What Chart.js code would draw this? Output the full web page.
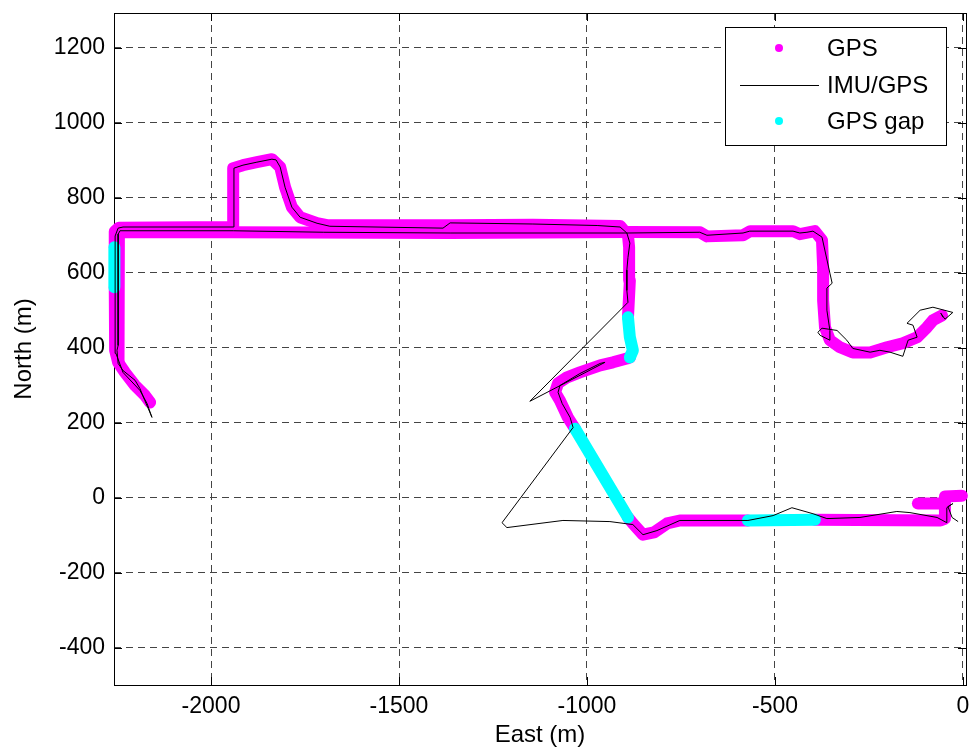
<!DOCTYPE html>
<html>
<head>
<meta charset="utf-8">
<script src="https://cdn.jsdelivr.net/npm/chart.js@4.4.1/dist/chart.umd.min.js"></script>
<style>
  body { margin: 0; background: #fff; }
  #wrap { width: 969px; height: 750px; }
</style>
</head>
<body>
<div id="wrap"><canvas id="grafico" width="969" height="750"></canvas></div>
<script>
// East / North in metres
const ticksEste = [-2000, -1500, -1000, -500, 0];
const ticksNorte = [-400, -200, 0, 200, 400, 600, 800, 1000, 1200];

// GPS fixes (magenta), one array per continuous stretch
const gpsOrigen = [[-3, 5], [-48, 3], [-48, -56], [-60, -61], [-394, -59]];
const gpsGancho = [[-120, -16], [-62, -16]];
const gpsSur = [[-572, -61], [-753, -61], [-787, -69], [-822, -93], [-851, -99], [-878, -69], [-891, -53]];
const gpsCurva = [[-1032, 184], [-1051, 214], [-1072, 259], [-1085, 281], [-1077, 305], [-1053, 321], [-1019, 334],
  [-965, 353], [-931, 361], [-894, 371], [-886, 374]];
const gpsNorteArriba = [[-891, 481], [-886, 580], [-888, 668], [-891, 700], [-912, 725], [-1144, 728], [-1364, 727],
  [-1691, 727], [-1718, 732], [-1763, 748], [-1785, 775], [-1803, 828], [-1816, 882], [-1838, 903], [-1878, 895],
  [-1915, 887], [-1941, 879], [-1941, 722], [-2245, 720], [-2256, 710], [-2256, 668]];
const gpsOeste = [[-2256, 561], [-2255, 393], [-2247, 361], [-2229, 334], [-2202, 299], [-2176, 273], [-2162, 254]];
const gpsVuelta = [[-56, 486], [-80, 473], [-96, 454], [-122, 428], [-160, 412], [-202, 401], [-247, 387], [-293, 387],
  [-327, 401], [-354, 420], [-367, 454], [-372, 526], [-372, 615], [-375, 687], [-394, 711], [-434, 703], [-452, 711],
  [-566, 711], [-585, 700], [-681, 697], [-699, 708], [-891, 709], [-1364, 706], [-1941, 708], [-2242, 708],
  [-2245, 700], [-2245, 400], [-2247, 361]];

// GPS gap stretches (cyan)
const hueco1 = [[-394, -59], [-572, -61]];
const hueco2 = [[-891, -53], [-1032, 184]];
const hueco3 = [[-886, 374], [-878, 393], [-886, 428], [-891, 481]];
const hueco4 = [[-2257, 668], [-2257, 561]];

// IMU/GPS solution (black line), in driving order
const imuGps = [[-53, 481], [-59, 492], [-48, 476], [-27, 494], [-80, 508], [-114, 500], [-149, 465], [-133, 460],
  [-122, 428], [-146, 420], [-160, 377], [-194, 388], [-221, 393], [-247, 388], [-293, 398], [-309, 420], [-335, 446],
  [-375, 452], [-386, 441], [-380, 433], [-354, 420], [-354, 446], [-362, 500], [-362, 559], [-348, 572], [-354, 599],
  [-375, 695], [-399, 711], [-415, 708], [-434, 706], [-452, 711], [-567, 711], [-585, 706], [-681, 700], [-700, 708],
  [-891, 706], [-1364, 706], [-1700, 708], [-1941, 712], [-2242, 712], [-2247, 703], [-2247, 406], [-2250, 393],
  [-2247, 358], [-2234, 339], [-2202, 313], [-2189, 291], [-2176, 259], [-2157, 214], [-2170, 251], [-2189, 286],
  [-2234, 334], [-2253, 385], [-2255, 406], [-2255, 698], [-2247, 719], [-2234, 722], [-1941, 722], [-1939, 879],
  [-1915, 887], [-1878, 895], [-1838, 903], [-1827, 901], [-1816, 882], [-1803, 828], [-1785, 775], [-1763, 748],
  [-1718, 732], [-1684, 724], [-1383, 719], [-1364, 733], [-1144, 730], [-973, 726], [-912, 722], [-894, 706],
  [-886, 679], [-891, 641], [-894, 607], [-894, 553], [-891, 521], [-1152, 257], [-952, 361], [-965, 358],
  [-1019, 331], [-1072, 299], [-1077, 281], [-1066, 251], [-1045, 214], [-1037, 187], [-1226, -67], [-1213, -80],
  [-1064, -61], [-939, -64], [-878, -72], [-851, -99], [-814, -88], [-753, -61], [-572, -61], [-505, -48],
  [-455, -27], [-399, -43], [-362, -56], [-274, -53], [-176, -37], [-141, -40], [-69, -53], [-43, -67], [-43, -27],
  [-27, -16], [-40, -24], [-29, -53], [-13, -64]];

const tramosGps = [gpsOrigen, gpsGancho, gpsSur, gpsCurva, gpsNorteArriba, gpsOeste, gpsVuelta];
const tramosHueco = [hueco1, hueco2, hueco3, hueco4];

const fuente = '"Liberation Sans", Arial, Helvetica, sans-serif';
const MAGENTA = '#ff00ff';
const CIAN = '#00ffff';

function aPuntos(tramo) {
    return tramo.map(p => ({ x: p[0], y: p[1] }));
}

function tramoGrueso(tramo, color, orden) {
    return {
        data: aPuntos(tramo),
        showLine: true,
        borderColor: color,
        backgroundColor: color,
        borderWidth: 12,
        borderCapStyle: 'round',
        borderJoinStyle: 'round',
        pointRadius: 0,
        tension: 0,
        clip: false,
        order: orden
    };
}

const datasets = [];
datasets.push({
    data: aPuntos(imuGps),
    showLine: true,
    borderColor: '#000',
    borderWidth: 1,
    pointRadius: 0,
    tension: 0,
    clip: false,
    order: 0
});
tramosHueco.forEach(t => datasets.push(tramoGrueso(t, CIAN, 1)));
tramosGps.forEach(t => datasets.push(tramoGrueso(t, MAGENTA, 2)));

// box around the axes with inward ticks on all four sides
const marco = {
    id: 'marco',
    beforeDatasetsDraw(chart) {
        const { ctx, chartArea: a, scales } = chart;
        ctx.save();
        ctx.strokeStyle = '#000';
        ctx.lineWidth = 1;
        ctx.strokeRect(Math.round(a.left) + 0.5, Math.round(a.top) + 0.5,
            Math.round(a.right - a.left), Math.round(a.bottom - a.top));
        const largo = 8;
        ctx.beginPath();
        ticksEste.forEach(v => {
            const px = Math.round(scales.x.getPixelForValue(v)) + 0.5;
            ctx.moveTo(px, a.bottom); ctx.lineTo(px, a.bottom - largo);
            ctx.moveTo(px, a.top); ctx.lineTo(px, a.top + largo);
        });
        ticksNorte.forEach(v => {
            const py = Math.round(scales.y.getPixelForValue(v)) + 0.5;
            ctx.moveTo(a.left, py); ctx.lineTo(a.left + largo, py);
            ctx.moveTo(a.right, py); ctx.lineTo(a.right - largo, py);
        });
        ctx.stroke();
        ctx.restore();
    },
    afterDraw(chart) {
        const ctx = chart.ctx;
        const x0 = 725.5, y0 = 27.5, w = 221, h = 118;
        ctx.save();
        ctx.fillStyle = '#fff';
        ctx.fillRect(x0, y0, w, h);
        ctx.strokeStyle = '#000';
        ctx.lineWidth = 1;
        ctx.strokeRect(x0, y0, w, h);
        const filas = [
            { texto: 'GPS', y: 48, tipo: 'punto', color: MAGENTA },
            { texto: 'IMU/GPS', y: 85, tipo: 'linea', color: '#000' },
            { texto: 'GPS gap', y: 121, tipo: 'punto', color: CIAN }
        ];
        ctx.font = '24px ' + fuente;
        ctx.textBaseline = 'middle';
        ctx.textAlign = 'left';
        filas.forEach(f => {
            if (f.tipo === 'punto') {
                ctx.fillStyle = f.color;
                ctx.beginPath();
                ctx.arc(779, f.y, 4, 0, Math.PI * 2);
                ctx.fill();
            } else {
                ctx.strokeStyle = f.color;
                ctx.beginPath();
                ctx.moveTo(740, f.y + 0.5);
                ctx.lineTo(819, f.y + 0.5);
                ctx.stroke();
            }
            ctx.fillStyle = '#000';
            ctx.fillText(f.texto, 827, f.y + 1);
        });
        ctx.restore();
    }
};

const cuadricula = {
    color: '#444',
    lineWidth: 1,
    drawTicks: false
};

function sinMargenes(s) {
    s.paddingTop = 0;
    s.paddingBottom = 0;
    s.paddingLeft = 0;
    s.paddingRight = 0;
}

new Chart(document.getElementById('grafico'), {
    type: 'scatter',
    data: { datasets: datasets },
    options: {
        responsive: false,
        animation: false,
        devicePixelRatio: 1,
        layout: { padding: { top: 13, right: 3, left: 0, bottom: 0 } },
        plugins: {
            legend: { display: false },
            tooltip: { enabled: false }
        },
        scales: {
            x: {
                type: 'linear',
                min: -2258,
                max: 8,
                afterBuildTicks: s => { s.ticks = ticksEste.map(v => ({ value: v })); },
                afterFit: s => { s.height = 65; sinMargenes(s); },
                grid: cuadricula,
                border: { display: false, dash: [7, 5] },
                ticks: {
                    autoSkip: false,
                    maxRotation: 0,
                    padding: 8,
                    color: '#000',
                    font: { family: fuente, size: 23 },
                    callback: v => String(v)
                },
                title: {
                    display: true,
                    text: 'East (m)',
                    color: '#000',
                    font: { family: fuente, size: 24 },
                    padding: { top: 0, bottom: 0 }
                }
            },
            y: {
                type: 'linear',
                min: -500,
                max: 1293,
                afterBuildTicks: s => { s.ticks = ticksNorte.map(v => ({ value: v })); },
                afterFit: s => { s.width = 114; sinMargenes(s); },
                grid: cuadricula,
                border: { display: false, dash: [7, 5] },
                ticks: {
                    autoSkip: false,
                    padding: 9,
                    color: '#000',
                    font: { family: fuente, size: 23 },
                    callback: v => String(v)
                },
                title: {
                    display: true,
                    text: 'North (m)',
                    color: '#000',
                    font: { family: fuente, size: 24 },
                    padding: { top: 10, bottom: 0 }
                }
            }
        }
    },
    plugins: [marco]
});
</script>
</body>
</html>
